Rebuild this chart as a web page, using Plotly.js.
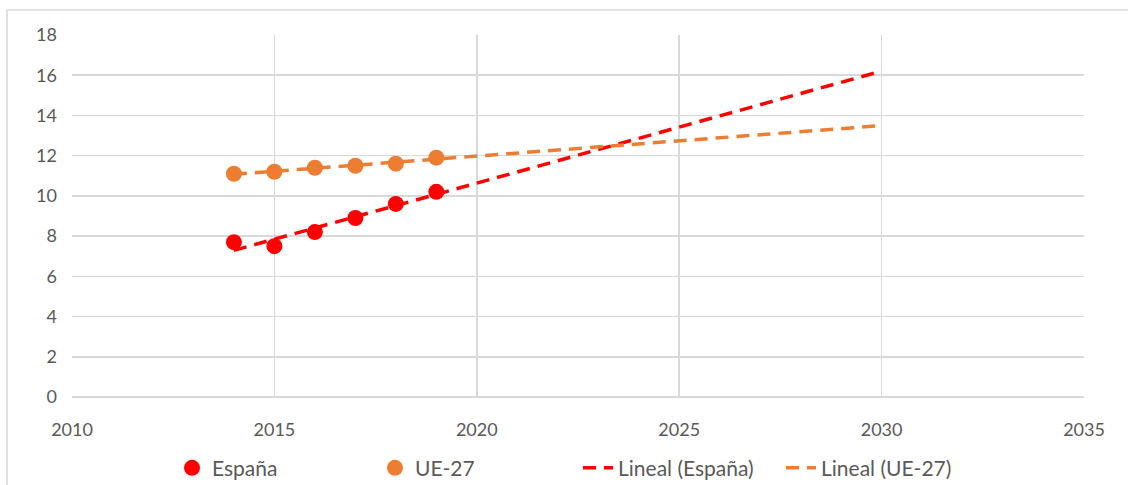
<!DOCTYPE html>
<html>
<head>
<meta charset="utf-8">
<script src="https://cdn.plot.ly/plotly-3.0.1.min.js"></script>
<style>html,body{margin:0;padding:0;background:#fff;}#chart{width:1128px;height:485px;}</style>
</head>
<body>
<div id="chart"></div>
<script>
const years = [2014, 2015, 2016, 2017, 2018, 2019];
const espana = [7.7, 7.5, 8.2, 8.9, 9.6, 10.2];
const ue27 = [11.1, 11.2, 11.4, 11.5, 11.6, 11.9];
const trendEnd = 2030;
const names = ['España', 'UE-27', 'Lineal (España)', 'Lineal (UE-27)'];

function linfit(xs, ys) {
  const n = xs.length;
  const mx = xs.reduce((a, b) => a + b, 0) / n;
  const my = ys.reduce((a, b) => a + b, 0) / n;
  let sxy = 0, sxx = 0;
  for (let i = 0; i < n; i++) { sxy += (xs[i] - mx) * (ys[i] - my); sxx += (xs[i] - mx) ** 2; }
  const b = sxy / sxx;
  return x => my + b * (x - mx);
}
const fE = linfit(years, espana);
const fU = linfit(years, ue27);
const tx = [years[0], trendEnd];

const red = '#ff0000', orange = '#ed7d31';
const traces = [
  {x: years, y: espana, mode: 'markers', name: names[0], marker: {color: red, size: 16}},
  {x: years, y: ue27, mode: 'markers', name: names[1], marker: {color: orange, size: 16}},
  {x: tx, y: tx.map(fE), mode: 'lines', name: names[2], line: {color: red, width: 3.5, dash: '13px,8px'}},
  {x: tx, y: tx.map(fU), mode: 'lines', name: names[3], line: {color: orange, width: 3.5, dash: '13px,8px'}}
];
const font = {family: 'Lato, "Liberation Sans", sans-serif', size: 18, color: '#595959'};
const lfont = {family: 'Lato, "Liberation Sans", sans-serif', size: 21, color: '#595959'};
const layout = {
  width: 1128, height: 485,
  margin: {l: 72, r: 44, t: 35, b: 88, autoexpand: false},
  paper_bgcolor: '#fff', plot_bgcolor: '#fff',
  font: font,
  showlegend: true,
  legend: {orientation: 'h', x: 0.5, xanchor: 'center', y: -0.14, yanchor: 'top', font: lfont,
           entrywidth: 158, entrywidthmode: 'pixels', tracegroupgap: 0},
  xaxis: {range: [2010, 2035], dtick: 5, tick0: 2010, showgrid: true, gridcolor: '#d9d9d9', gridwidth: 1.5,
          zeroline: false, showline: false, ticks: '', ticklabelstandoff: 20, tickfont: font, fixedrange: true},
  yaxis: {range: [0, 18], dtick: 2, showgrid: true, gridcolor: '#d9d9d9', gridwidth: 1.5,
          zeroline: true, zerolinecolor: '#d9d9d9', zerolinewidth: 1.5, showline: false, ticks: '', ticklabelstandoff: 14, tickfont: font, fixedrange: true},
  shapes: [{type: 'rect', xref: 'paper', yref: 'paper', x0: -0.0642, x1: 1.1, y0: -0.4, y1: 1.069,
            line: {color: '#d9d9d9', width: 1.5}, fillcolor: 'rgba(0,0,0,0)', layer: 'below'}]
};
Plotly.newPlot('chart', traces, layout, {displayModeBar: false, staticPlot: true});
</script>
</body>
</html>
